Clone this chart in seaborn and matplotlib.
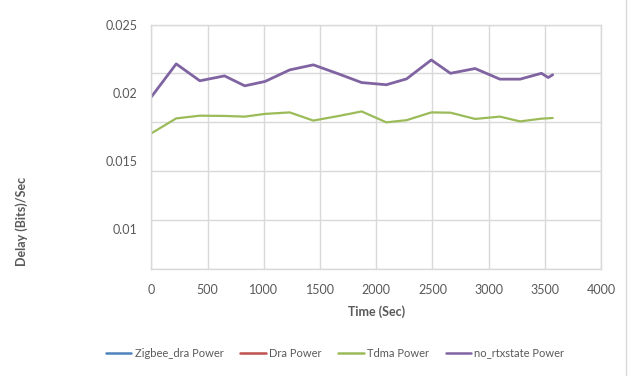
import numpy as np
import pandas as pd
import matplotlib
matplotlib.use("Agg")
import matplotlib.pyplot as plt
from matplotlib.lines import Line2D
import seaborn as sns

# Sample times (seconds)
time_sec = [0, 220, 430, 650, 830, 1010, 1230, 1440, 1660, 1870,
            2090, 2270, 2490, 2660, 2880, 3100, 3280, 3470, 3530, 3570]

# Delay series
tdma_power = [0.01706, 0.01815, 0.01835, 0.01833, 0.01828, 0.01848, 0.01859,
              0.01799, 0.01832, 0.01866, 0.01786, 0.01802, 0.01859, 0.01857,
              0.01811, 0.01828, 0.01793, 0.01813, 0.01816, 0.01818]
no_rtxstate_power = [0.01974, 0.02215, 0.02091, 0.02127, 0.02054, 0.02086,
                     0.02171, 0.02208, 0.02143, 0.02078, 0.02062, 0.02105,
                     0.02244, 0.02146, 0.02181, 0.02103, 0.02103, 0.02146,
                     0.02115, 0.02135]
# These two series carry no plotted values
zigbee_dra_power = []
dra_power = []

series_names = ["Zigbee_dra Power", "Dra Power", "Tdma Power", "no_rtxstate Power"]
series_colors = ["#4F81BD", "#C0504D", "#9BBB59", "#8064A2"]

x_ticks = [0, 500, 1000, 1500, 2000, 2500, 3000, 3500, 4000]
y_ticks = [0.01, 0.015, 0.02, 0.025]
y_tick_labels = ["0.01", "0.015", "0.02", "0.025"]

sns.set_theme(style="white")
plt.rcParams["font.family"] = ["Lato", "DejaVu Sans"]

df = pd.concat([
    pd.DataFrame({"Time": time_sec, "Delay": tdma_power, "Series": "Tdma Power"}),
    pd.DataFrame({"Time": time_sec, "Delay": no_rtxstate_power, "Series": "no_rtxstate Power"}),
])

fig = plt.figure(figsize=(6.37, 3.76), dpi=100)
ax = fig.add_axes([0.2378, 0.2859, 0.7057, 0.6489])

palette = dict(zip(series_names, series_colors))
sns.lineplot(data=df, x="Time", y="Delay", hue="Series", palette=palette,
             ax=ax, legend=False, sort=False, estimator=None)
for line, lw in zip(ax.get_lines(), [1.6, 2.0]):
    line.set_linewidth(lw)
    line.set_solid_joinstyle("round")

ax.set_xlim(0, 4000)
y_lo, y_hi = 0.007134, 0.02504
ax.set_ylim(y_lo, y_hi)

grid_col = "#D9D9D9"
text_col = "#595959"

ax.set_xticks(x_ticks)
ax.set_xticklabels([str(v) for v in x_ticks])
ax.set_yticks(y_ticks)
ax.set_yticklabels(y_tick_labels)
ax.set_yticks(np.linspace(y_lo, y_hi, 6), minor=True)
ax.grid(False)
ax.grid(True, axis="x", which="major", color=grid_col, linewidth=1.0)
ax.grid(True, axis="y", which="minor", color=grid_col, linewidth=1.0)
ax.set_axisbelow(True)
ax.tick_params(axis="both", which="both", length=0, labelsize=9, labelcolor=text_col)
ax.tick_params(axis="x", pad=11)
ax.tick_params(axis="y", pad=10)
for s in ax.spines.values():
    s.set_color(grid_col)
    s.set_linewidth(1.0)

ax.set_xlabel("Time (Sec)", fontsize=9, fontweight="bold", color=text_col, labelpad=7)
ax.set_ylabel("")
fig.text(21.7 / 637, 1 - 221 / 376, "Delay (Bits)/Sec", rotation=90, ha="center",
         va="center", fontsize=9, fontweight="bold", color=text_col)

handles = [Line2D([], [], color=c, linewidth=1.8) for c in series_colors]
ax.plot(zigbee_dra_power, zigbee_dra_power, color=series_colors[0])
ax.plot(dra_power, dra_power, color=series_colors[1])
fig.legend(handles, series_names, loc="center", bbox_to_anchor=(0.526, 0.061),
           ncol=4, frameon=False, fontsize=8, handlelength=2.3,
           columnspacing=1.5, handletextpad=0.3, labelcolor=text_col)

fig.add_artist(Line2D([626 / 637, 626 / 637], [0, 1], transform=fig.transFigure,
                      color=grid_col, linewidth=1.0))

fig.savefig("out.png", dpi=100)
